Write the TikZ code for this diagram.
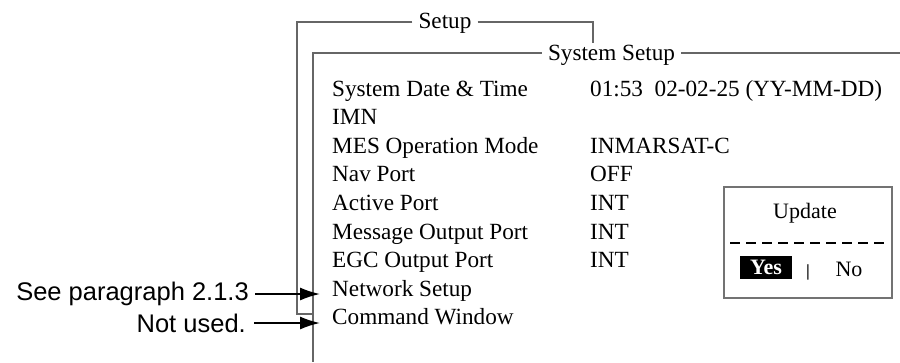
\documentclass[tikz,border=0pt]{standalone}
\usepackage{fontspec}
\setmainfont{Liberation Serif}
\newfontfamily\labelfont{Liberation Sans}
\usetikzlibrary{arrows.meta}
\tikzset{
  frame/.style={draw=black!60, line width=1.4pt},
  rowtxt/.style={anchor=base west, inner sep=0pt, font=\fontsize{23.2}{26}\selectfont},
  ttl/.style={anchor=base, inner ysep=0pt, inner xsep=6pt, font=\fontsize{23.2}{26}\selectfont},
  side/.style={anchor=east, inner sep=0pt, font=\labelfont\fontsize{25.5}{28}\selectfont},
  arr/.style={-{Latex[length=20pt,width=13pt]}, line width=1.7pt, black},
  dashline/.style={draw=black, line width=1.4pt, dash pattern=on 10pt off 6pt}
}
\begin{document}
\begin{tikzpicture}[x=1pt,y=-1pt]
\path[use as bounding box] (0,0) rectangle (900,362);
% titles
\node[ttl] (setup) at (445,28) {Setup};
\node[ttl] (syssetup) at (611.5,60) {System Setup};
% frame corners
\coordinate (otl) at (297,22);
\coordinate (otr) at (593,22);
\coordinate (otrb) at (593,43);
\coordinate (obl) at (297,314);
\coordinate (obr) at (313,314);
\coordinate (itl) at (313,53);
\coordinate (ibl) at (313,362);
\coordinate (itr) at (900,53);
\draw[frame] (setup.west |- otl) -- (otl) -- (obl) -- (obr);
\draw[frame] (setup.east |- otr) -- (otr) -- (otrb);
\draw[frame] (syssetup.west |- itl) -- (itl) -- (ibl);
\draw[frame] (syssetup.east |- itr) -- (itr);
% rows
\node[rowtxt] (r1) at (332,96) {System Date \& Time};
\node[rowtxt] (r2) at (332,124.6) {IMN};
\node[rowtxt] (r3) at (332,153.2) {MES Operation Mode};
\node[rowtxt] (r4) at (332,181.8) {Nav Port};
\node[rowtxt] (r5) at (332,210.4) {Active Port};
\node[rowtxt] (r6) at (332,239) {Message Output Port};
\node[rowtxt] (r7) at (332,267.6) {EGC Output Port};
\node[rowtxt] (r8) at (332,296.2) {Network Setup};
\node[rowtxt] (r9) at (332,324.8) {Command Window};
\node[rowtxt] (v1) at (590,96) {01:53\ \ 02-02-25 (YY-MM-DD)};
\node[rowtxt] (v3) at (590,153.2) {INMARSAT-C};
\node[rowtxt] (v4) at (590,181.8) {OFF};
\node[rowtxt] (v5) at (590,210.4) {INT};
\node[rowtxt] (v6) at (590,239) {INT};
\node[rowtxt] (v7) at (590,267.6) {INT};
% update box
\node[draw=black!55, line width=1.2pt, minimum width=168pt, minimum height=111pt, inner sep=0pt] (upd) at (808,242.5) {};
\node[font=\fontsize{22}{24}\selectfont, inner sep=0pt, anchor=base] (updt) at (805,218) {Update};
\coordinate (dl) at (730,243);
\coordinate (dr) at (886,243);
\draw[dashline] (dl) -- (dr);
\node[fill=black, text=white, font=\bfseries\fontsize{22}{24}\selectfont, minimum width=52pt, minimum height=23pt, inner sep=0pt] (yes) at (766,267.5) {Yes};
\node[font=\bfseries\fontsize{17}{19}\selectfont, inner sep=0pt] (bar) at (808,272) {|};
\node[font=\fontsize{22}{24}\selectfont, inner sep=0pt, anchor=base] (no) at (849,276) {No};
% side labels
\node[side] (see) at (249,294) {See paragraph 2.1.3};
\node[side] (notused) at (246,323) {Not used.};
\coordinate (t1) at (320,294);
\coordinate (t2) at (320,323);
\draw[arr] ([xshift=6pt]see.east) -- (t1);
\draw[arr] ([xshift=8pt]notused.east) -- (t2);
\end{tikzpicture}
\end{document}
